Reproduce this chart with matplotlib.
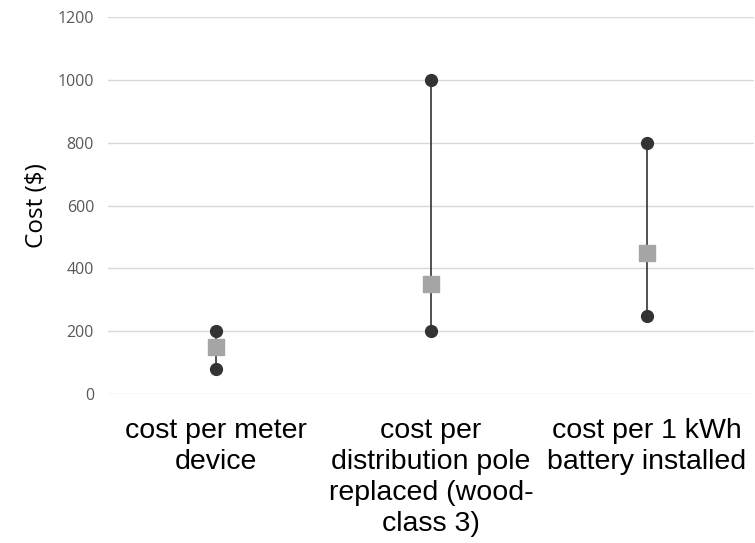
import matplotlib.pyplot as plt

# Cost ranges per item (min / max / central estimate)
categories = ["cost per meter\ndevice",
              "cost per\ndistribution pole\nreplaced (wood-\nclass 3)",
              "cost per 1 kWh\nbattery installed"]
cost_min = [80, 200, 250]
cost_max = [200, 1000, 800]
cost_mid = [150, 350, 450]
y_ticks = [0, 200, 400, 600, 800, 1000, 1200]

fig = plt.figure(figsize=(7.55, 5.43), dpi=100)
ax = fig.add_axes([0.143, 0.274, 0.856, 0.695])

x = list(range(len(categories)))
ax.vlines(x, cost_min, cost_max, color="#333333", linewidth=1.2, zorder=2)
ax.plot(x, cost_min, "o", color="#333333", markersize=8.5, zorder=3)
ax.plot(x, cost_max, "o", color="#333333", markersize=8.5, zorder=3)
ax.plot(x, cost_mid, "s", color="#a5a5a5", markersize=11, zorder=4)

ax.set_xlim(-0.5, 2.5)
ax.set_ylim(0, 1200)
ax.set_yticks(y_ticks)
ax.set_yticklabels([str(v) for v in y_ticks], fontsize=11.5, color="#595959",
                   family="Open Sans")
ax.yaxis.grid(True, color="#d9d9d9", linewidth=1)
ax.set_axisbelow(True)
ax.tick_params(axis="y", length=0, pad=10)
ax.tick_params(axis="x", length=0, pad=17)
ax.set_xticks(x)
ax.set_xticklabels(categories, fontsize=20.5, color="black",
                   family="Liberation Sans", linespacing=1.25, va="top")
for s in ax.spines.values():
    s.set_visible(False)
ax.set_ylabel("Cost ($)", fontsize=17.5, family="Open Sans", labelpad=6)

fig.savefig("out.png", dpi=100)
